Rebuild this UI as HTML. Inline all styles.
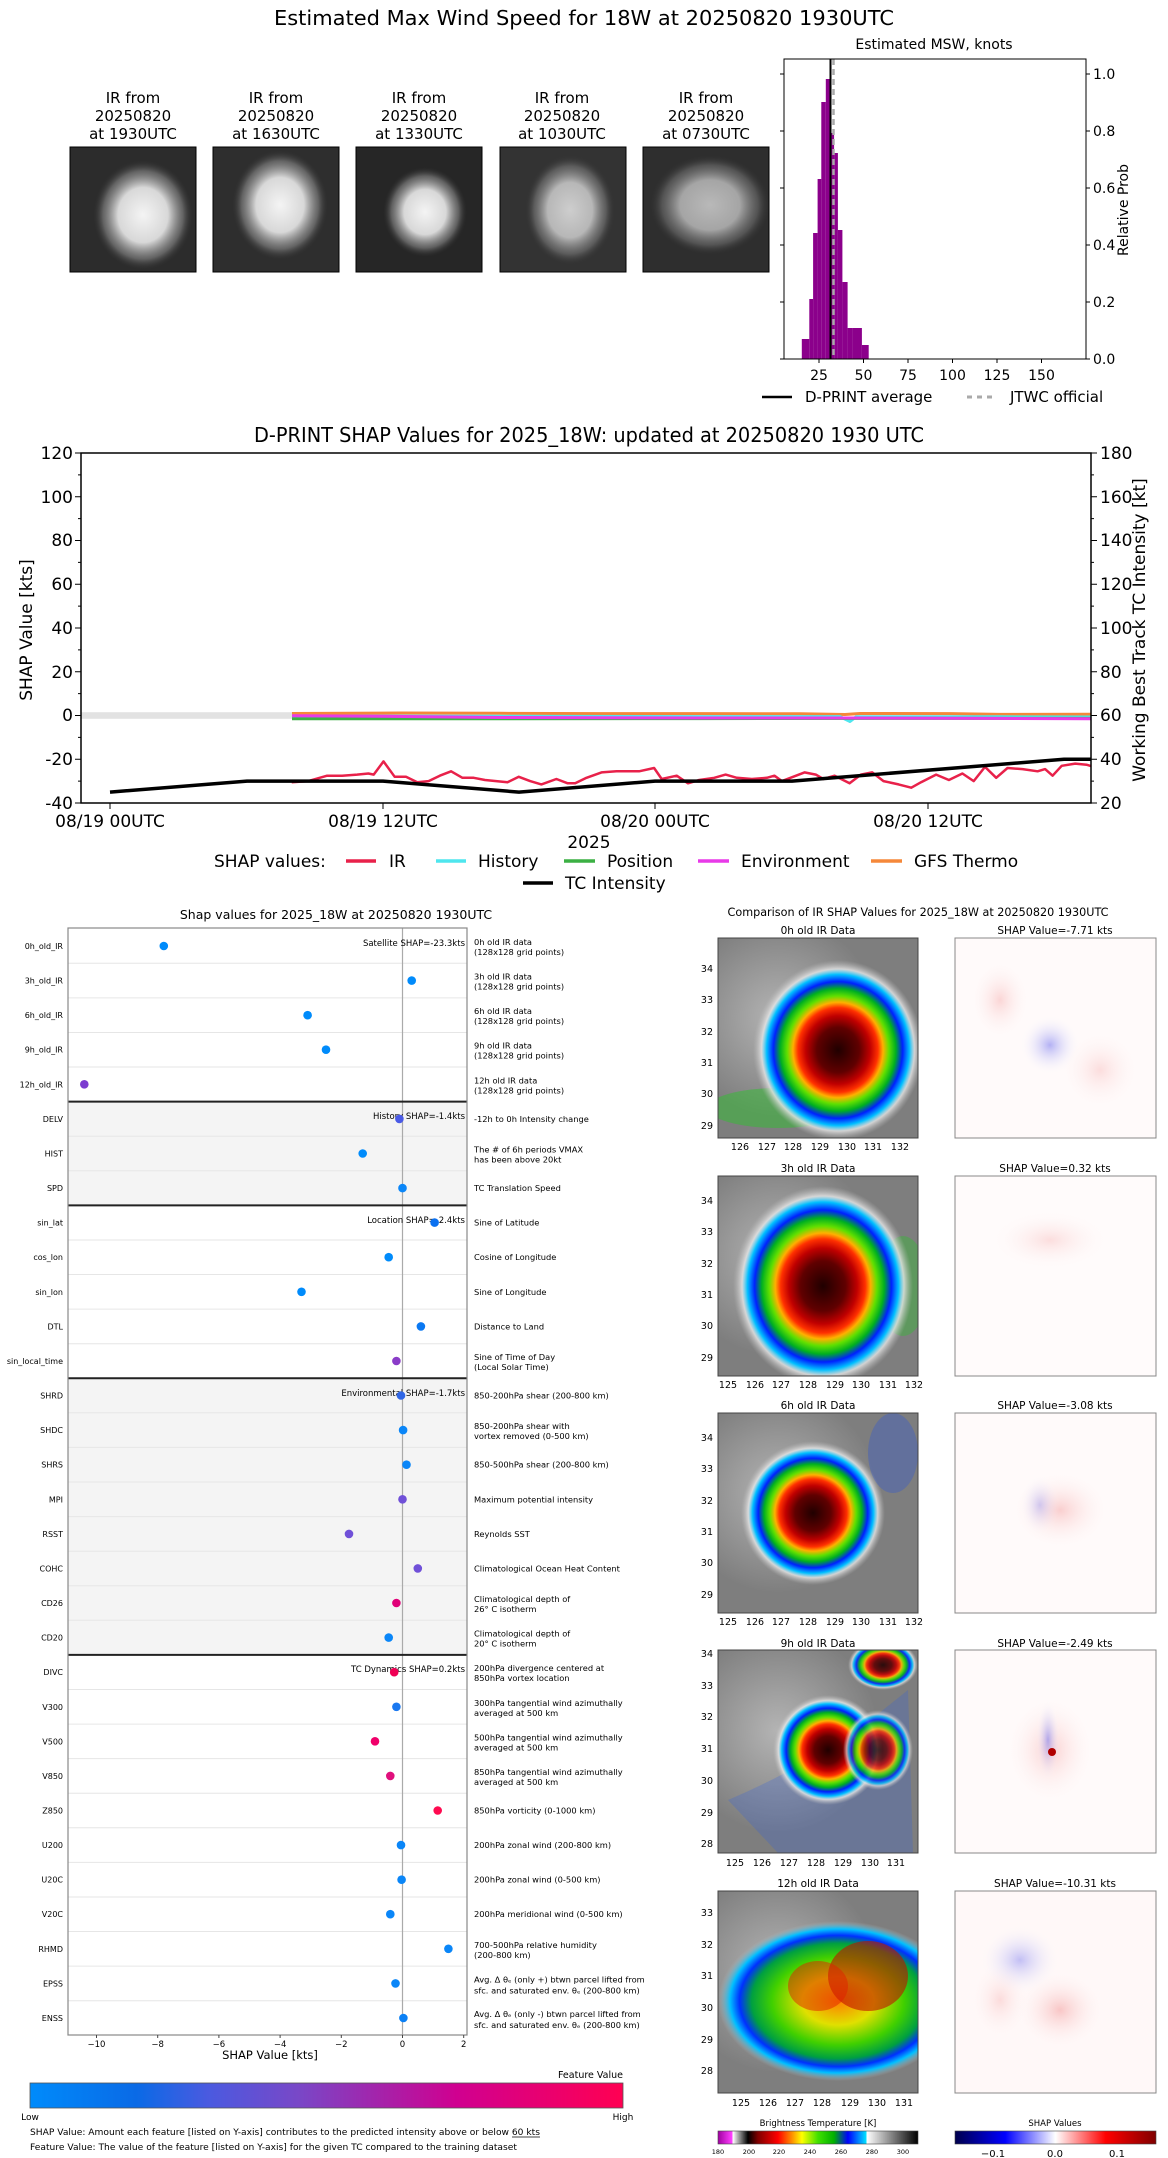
<!DOCTYPE html>
<html><head><meta charset="utf-8"><style>
html,body{margin:0;padding:0;background:#fff}
svg{display:block}
text{font-family:"DejaVu Sans","Liberation Sans",sans-serif;fill:#000}
</style></head><body>
<svg width="1168" height="2158" viewBox="0 0 1168 2158" xmlns="http://www.w3.org/2000/svg">
<defs>
<radialGradient id="wb"><stop offset="0" stop-color="#f4f4f4"/><stop offset="0.5" stop-color="#d8d8d8"/><stop offset="0.8" stop-color="#888" stop-opacity="0.6"/><stop offset="1" stop-color="#333" stop-opacity="0"/></radialGradient>
<radialGradient id="ir"><stop offset="0" stop-color="#200000"/><stop offset="0.25" stop-color="#600000"/><stop offset="0.38" stop-color="#c00000"/><stop offset="0.47" stop-color="#ff3000"/><stop offset="0.53" stop-color="#ffb000"/><stop offset="0.6" stop-color="#60e000"/><stop offset="0.68" stop-color="#00b020"/><stop offset="0.76" stop-color="#0020ff"/><stop offset="0.84" stop-color="#00c0ff"/><stop offset="0.9" stop-color="#e8e8e8" stop-opacity="0.8"/><stop offset="1" stop-color="#bbb" stop-opacity="0"/></radialGradient>
<radialGradient id="irg"><stop offset="0" stop-color="#ff8000"/><stop offset="0.3" stop-color="#e0e000"/><stop offset="0.55" stop-color="#40d000"/><stop offset="0.72" stop-color="#00a040"/><stop offset="0.82" stop-color="#0030ff"/><stop offset="0.9" stop-color="#00c0ff"/><stop offset="1" stop-color="#bbb" stop-opacity="0"/></radialGradient>
<radialGradient id="gbg" cx="0.3" cy="0.4"><stop offset="0" stop-color="#b4b4b4"/><stop offset="1" stop-color="#7e7e7e"/></radialGradient>
<radialGradient id="rb"><stop offset="0" stop-color="#f08080" stop-opacity="0.6"/><stop offset="1" stop-color="#fff" stop-opacity="0"/></radialGradient>
<radialGradient id="bb"><stop offset="0" stop-color="#8080f0" stop-opacity="0.6"/><stop offset="1" stop-color="#fff" stop-opacity="0"/></radialGradient>
<linearGradient id="fv" x1="0" x2="1"><stop offset="0" stop-color="#008bfb"/><stop offset="0.18" stop-color="#0a6ae6"/><stop offset="0.3" stop-color="#4a5ae0"/><stop offset="0.45" stop-color="#7848c8"/><stop offset="0.6" stop-color="#a820a8"/><stop offset="0.72" stop-color="#d00090"/><stop offset="1" stop-color="#ff0052"/></linearGradient>
<linearGradient id="bt" x1="0" x2="1"><stop offset="0" stop-color="#a000a0"/><stop offset="0.07" stop-color="#ff40ff"/><stop offset="0.075" stop-color="#fff"/><stop offset="0.1" stop-color="#aaa"/><stop offset="0.15" stop-color="#000"/><stop offset="0.2" stop-color="#800000"/><stop offset="0.3" stop-color="#ff0000"/><stop offset="0.37" stop-color="#ff9000"/><stop offset="0.42" stop-color="#ffff00"/><stop offset="0.5" stop-color="#40e000"/><stop offset="0.58" stop-color="#00b000"/><stop offset="0.65" stop-color="#0000ff"/><stop offset="0.74" stop-color="#00e0ff"/><stop offset="0.745" stop-color="#fff"/><stop offset="1" stop-color="#000"/></linearGradient>
<linearGradient id="sv" x1="0" x2="1"><stop offset="0" stop-color="#00004c"/><stop offset="0.25" stop-color="#0000ff"/><stop offset="0.5" stop-color="#fff"/><stop offset="0.75" stop-color="#ff0000"/><stop offset="1" stop-color="#800000"/></linearGradient>
<clipPath id="c2"><rect x="81" y="453" width="1010" height="350"/></clipPath>
</defs>

<!-- ===== Section 1 ===== -->
<text x="584" y="25" font-size="20" text-anchor="middle" textLength="620" lengthAdjust="spacingAndGlyphs">Estimated Max Wind Speed for 18W at 20250820 1930UTC</text>
<g font-size="15" text-anchor="middle">
<text x="133" y="103">IR from</text><text x="133" y="121">20250820</text><text x="133" y="139">at 1930UTC</text>
<text x="276" y="103">IR from</text><text x="276" y="121">20250820</text><text x="276" y="139">at 1630UTC</text>
<text x="419" y="103">IR from</text><text x="419" y="121">20250820</text><text x="419" y="139">at 1330UTC</text>
<text x="562" y="103">IR from</text><text x="562" y="121">20250820</text><text x="562" y="139">at 1030UTC</text>
<text x="706" y="103">IR from</text><text x="706" y="121">20250820</text><text x="706" y="139">at 0730UTC</text>
</g>
<g stroke="#000" stroke-width="1">
<rect x="70" y="147" width="126" height="125" fill="#2c2c2c"/>
<rect x="213" y="147" width="126" height="125" fill="#2e2e2e"/>
<rect x="356" y="147" width="126" height="125" fill="#262626"/>
<rect x="500" y="147" width="126" height="125" fill="#333"/>
<rect x="643" y="147" width="126" height="125" fill="#2e2e2e"/>
</g>
<ellipse cx="143" cy="215" rx="50" ry="55" fill="url(#wb)"/>
<ellipse cx="280" cy="205" rx="48" ry="55" fill="url(#wb)"/>
<ellipse cx="425" cy="212" rx="42" ry="45" fill="url(#wb)"/>
<ellipse cx="570" cy="210" rx="45" ry="55" fill="url(#wb)" opacity="0.8"/>
<ellipse cx="710" cy="205" rx="60" ry="50" fill="url(#wb)" opacity="0.7"/>

<g transform="translate(-8,0)">
<text x="942" y="49" font-size="14" text-anchor="middle">Estimated MSW, knots</text>
<g fill="#8b008b">
<rect x="809.8" y="339" width="7.5" height="20"/>
<rect x="817.3" y="299" width="3.8" height="60"/>
<rect x="821.1" y="233" width="4.5" height="126"/>
<rect x="825.6" y="179" width="3.7" height="180"/>
<rect x="829.3" y="102" width="4.5" height="257"/>
<rect x="833.8" y="79" width="4.5" height="280"/>
<rect x="838.3" y="133" width="3.8" height="226"/>
<rect x="842.1" y="153" width="3.8" height="206"/>
<rect x="845.9" y="230" width="4.5" height="129"/>
<rect x="850.4" y="282" width="5.2" height="77"/>
<rect x="855.6" y="328" width="5.3" height="31"/>
<rect x="860.9" y="328" width="9" height="31"/>
<rect x="869.9" y="345" width="6.8" height="14"/>
</g>
<line x1="838.5" y1="59" x2="838.5" y2="359" stroke="#000" stroke-width="2"/>
<line x1="841.5" y1="59" x2="841.5" y2="359" stroke="#aaa" stroke-width="2.5" stroke-dasharray="6,4"/>
<rect x="792" y="59" width="302" height="300" fill="none" stroke="#000" stroke-width="1"/>
<g stroke="#000">
<line x1="827" y1="359" x2="827" y2="363"/><line x1="871.5" y1="359" x2="871.5" y2="363"/><line x1="916" y1="359" x2="916" y2="363"/><line x1="960.5" y1="359" x2="960.5" y2="363"/><line x1="1005" y1="359" x2="1005" y2="363"/><line x1="1049.5" y1="359" x2="1049.5" y2="363"/>
<line x1="1094" y1="359" x2="1098" y2="359"/><line x1="1094" y1="302" x2="1098" y2="302"/><line x1="1094" y1="245" x2="1098" y2="245"/><line x1="1094" y1="188" x2="1098" y2="188"/><line x1="1094" y1="131" x2="1098" y2="131"/><line x1="1094" y1="74" x2="1098" y2="74"/>
<line x1="788" y1="359" x2="792" y2="359"/><line x1="788" y1="302" x2="792" y2="302"/><line x1="788" y1="245" x2="792" y2="245"/><line x1="788" y1="188" x2="792" y2="188"/><line x1="788" y1="131" x2="792" y2="131"/><line x1="788" y1="74" x2="792" y2="74"/>
</g>
<g font-size="14" text-anchor="middle">
<text x="827" y="380">25</text><text x="871.5" y="380">50</text><text x="916" y="380">75</text><text x="960.5" y="380">100</text><text x="1005" y="380">125</text><text x="1049.5" y="380">150</text>
</g>
<g font-size="14">
<text x="1101" y="364">0.0</text><text x="1101" y="307">0.2</text><text x="1101" y="250">0.4</text><text x="1101" y="193">0.6</text><text x="1101" y="136">0.8</text><text x="1101" y="79">1.0</text>
</g>
<text x="1136" y="210" font-size="14" text-anchor="middle" transform="rotate(-90 1136 210)">Relative Prob</text>
<line x1="770" y1="397" x2="800" y2="397" stroke="#000" stroke-width="2.5"/>
<text x="813" y="402" font-size="15">D-PRINT average</text>
<line x1="975" y1="397" x2="1003" y2="397" stroke="#aaa" stroke-width="3" stroke-dasharray="5,5"/>
<text x="1018" y="402" font-size="15">JTWC official</text>
</g>

<!-- ===== Section 2 ===== -->
<text x="589" y="442" font-size="20" text-anchor="middle" textLength="670" lengthAdjust="spacingAndGlyphs">D-PRINT SHAP Values for 2025_18W: updated at 20250820 1930 UTC</text>
<rect x="81" y="712.2" width="212" height="6.6" fill="#e2e2e2"/>
<g clip-path="url(#c2)" fill="none" stroke-linejoin="round">
<polyline stroke="#f5883a" stroke-width="3" points="292,713.5 400,713 500,713.3 600,713.6 700,713.6 800,713.8 845,714.5 860,713.5 950,713.6 1000,714.4 1091,714.2"/>
<polyline stroke="#4ee6ee" stroke-width="3" points="292,716 500,716.3 700,716.6 840,716.6 850,721.5 856,716.8 1000,716.8 1091,717"/>
<polyline stroke="#3cb044" stroke-width="3" points="292,718.8 500,718.8 700,718.6 900,718.4 1091,718.4"/>
<polyline stroke="#e83ae8" stroke-width="3" points="292,715.8 380,716.3 500,717.5 700,718 850,718 1000,718.4 1091,718.8"/>
<polyline stroke="#e8214a" stroke-width="2.5" points="291.7,782.2 308.3,781.1 327.1,775.7 342.1,775.7 357.1,774.6 368.4,773.5 373.7,774.6 383.5,761.4 394.7,776.8 406,776.8 417.3,782.2 428.6,781.1 439.8,775.7 451.1,771.3 462.4,777.8 473.7,777.8 485,780 496.2,781.1 507.5,782.2 518.8,776.8 530.1,781.1 541.4,784.4 556.4,779 567.7,783.3 575.2,783.3 586.5,777.8 601.5,772.4 616.5,771.3 639.1,771.3 654.1,768 661.7,779 676.7,775.7 688,783.3 699.2,780 714.3,777.8 725.6,774.6 736.8,777.8 751.9,779 766.9,777.8 774.4,775.7 782,781.1 804.5,772.4 815.8,774.6 823.3,779 834.6,775.7 849.6,783.3 860.9,774.6 872.2,772.4 883.5,781.1 898.5,784.4 911.3,787.7 921.1,782.2 936.1,774.6 948.9,780 962.4,773.5 973.7,781.1 985,766.9 996.2,777.8 1007.5,768 1022.6,769.1 1037.6,771.3 1045.1,769.1 1052.6,775.7 1061.7,765.8 1075.2,763.6 1086.5,764.7 1091,766"/>
<polyline stroke="#000" stroke-width="3.5" points="110,792.1 247,781.1 383,781.1 519,792.1 655,781.1 792,781.1 1064,759.25 1091,759.25"/>
</g>
<rect x="81" y="453" width="1010" height="350" fill="none" stroke="#000" stroke-width="1.5"/>
<g stroke="#000" stroke-width="1">
<path d="M81 453h-6M81 496.75h-6M81 540.5h-6M81 584.25h-6M81 628h-6M81 671.75h-6M81 715.5h-6M81 759.25h-6M81 803h-6M81 474.9h-3M81 518.6h-3M81 562.4h-3M81 606.1h-3M81 649.9h-3M81 693.6h-3M81 737.4h-3M81 781.1h-3"/>
<path d="M1091 453h6M1091 496.75h6M1091 540.5h6M1091 584.25h6M1091 628h6M1091 671.75h6M1091 715.5h6M1091 759.25h6M1091 803h6M1091 474.9h3M1091 518.6h3M1091 562.4h3M1091 606.1h3M1091 649.9h3M1091 693.6h3M1091 737.4h3M1091 781.1h3"/>
<path d="M110 803v6M383 803v6M655 803v6M928 803v6"/>
</g>
<g font-size="17" text-anchor="end">
<text x="73" y="459">120</text><text x="73" y="503">100</text><text x="73" y="546">80</text><text x="73" y="590">60</text><text x="73" y="634">40</text><text x="73" y="678">20</text><text x="73" y="721">0</text><text x="73" y="765">-20</text><text x="73" y="809">-40</text>
</g>
<g font-size="17">
<text x="1100" y="459">180</text><text x="1100" y="503">160</text><text x="1100" y="546">140</text><text x="1100" y="590">120</text><text x="1100" y="634">100</text><text x="1100" y="678">80</text><text x="1100" y="721">60</text><text x="1100" y="765">40</text><text x="1100" y="809">20</text>
</g>
<g font-size="17" text-anchor="middle">
<text x="110" y="827">08/19 00UTC</text><text x="383" y="827">08/19 12UTC</text><text x="655" y="827">08/20 00UTC</text><text x="928" y="827">08/20 12UTC</text>
<text x="589" y="848">2025</text>
</g>
<text x="32" y="630" font-size="17" text-anchor="middle" transform="rotate(-90 32 630)">SHAP Value [kts]</text>
<text x="1145" y="630" font-size="17" text-anchor="middle" transform="rotate(-90 1145 630)">Working Best Track TC Intensity [kt]</text>
<g font-size="17">
<text x="214" y="867">SHAP values:</text>
<line x1="346" y1="861" x2="376" y2="861" stroke="#e8214a" stroke-width="3.5"/><text x="389" y="867">IR</text>
<line x1="436" y1="861" x2="466" y2="861" stroke="#4ee6ee" stroke-width="3.5"/><text x="478" y="867">History</text>
<line x1="564" y1="861" x2="595" y2="861" stroke="#3cb044" stroke-width="3.5"/><text x="607" y="867">Position</text>
<line x1="698" y1="861" x2="729" y2="861" stroke="#e83ae8" stroke-width="3.5"/><text x="741" y="867">Environment</text>
<line x1="871" y1="861" x2="902" y2="861" stroke="#f5883a" stroke-width="3.5"/><text x="914" y="867">GFS Thermo</text>
<line x1="523" y1="883" x2="553" y2="883" stroke="#000" stroke-width="3.5"/><text x="565" y="889">TC Intensity</text>
</g>

<!-- ===== Section 3 left ===== -->
<text x="336" y="919" font-size="12.5" text-anchor="middle">Shap values for 2025_18W at 20250820 1930UTC</text>
<rect x="68" y="1101.6" width="399" height="103.8" fill="#f4f4f4"/>
<rect x="68" y="1378.2" width="399" height="276.7" fill="#f4f4f4"/>
<g stroke="#e6e6e6" stroke-width="1">
<path d="M68 963.3h399M68 997.9h399M68 1032.5h399M68 1067h399M68 1136.2h399M68 1170.8h399M68 1240h399M68 1274.5h399M68 1309.1h399M68 1343.7h399M68 1412.8h399M68 1447.4h399M68 1482h399M68 1516.6h399M68 1551.2h399M68 1585.7h399M68 1620.3h399M68 1689.5h399M68 1724.1h399M68 1758.6h399M68 1793.2h399M68 1827.8h399M68 1862.4h399M68 1897h399M68 1931.5h399M68 1966.1h399M68 2000.7h399"/>
</g>
<line x1="402.5" y1="928" x2="402.5" y2="2035" stroke="#aaa" stroke-width="1.2"/>
<g stroke="#222" stroke-width="2">
<path d="M68 1101.6h399M68 1205.4h399M68 1378.2h399M68 1654.9h399"/>
</g>
<rect x="68" y="928" width="399" height="1107" fill="none" stroke="#888" stroke-width="1.2"/>
<g font-size="8.5" text-anchor="end">
<text x="465" y="946">Satellite SHAP=-23.3kts</text>
<text x="465" y="1119">History SHAP=-1.4kts</text>
<text x="465" y="1223">Location SHAP=-2.4kts</text>
<text x="465" y="1396">Environmental SHAP=-1.7kts</text>
<text x="465" y="1672">TC Dynamics SHAP=0.2kts</text>
</g>
<g>
<circle cx="163.8" cy="946" r="4.3" fill="#008bfb"/>
<circle cx="411.7" cy="980.6" r="4.3" fill="#008bfb"/>
<circle cx="307.6" cy="1015.2" r="4.3" fill="#008bfb"/>
<circle cx="326" cy="1049.7" r="4.3" fill="#008bfb"/>
<circle cx="84.3" cy="1084.3" r="4.3" fill="#7c3cd0"/>
<circle cx="399.4" cy="1118.9" r="4.3" fill="#4a5ae6"/>
<circle cx="362.7" cy="1153.5" r="4.3" fill="#008bfb"/>
<circle cx="402.5" cy="1188.1" r="4.3" fill="#0a86f8"/>
<circle cx="434.6" cy="1222.6" r="4.3" fill="#0a70f0"/>
<circle cx="388.7" cy="1257.2" r="4.3" fill="#008bfb"/>
<circle cx="301.5" cy="1291.8" r="4.3" fill="#008bfb"/>
<circle cx="420.9" cy="1326.4" r="4.3" fill="#0a78f2"/>
<circle cx="396.4" cy="1361" r="4.3" fill="#8a3cc8"/>
<circle cx="401" cy="1395.5" r="4.3" fill="#2f66e6"/>
<circle cx="403.1" cy="1430.1" r="4.3" fill="#0a86f8"/>
<circle cx="406.5" cy="1464.7" r="4.3" fill="#0a86f8"/>
<circle cx="402.5" cy="1499.3" r="4.3" fill="#7050d8"/>
<circle cx="349" cy="1533.9" r="4.3" fill="#7050d8"/>
<circle cx="417.8" cy="1568.4" r="4.3" fill="#7050d8"/>
<circle cx="396.4" cy="1603" r="4.3" fill="#e00078"/>
<circle cx="388.7" cy="1637.6" r="4.3" fill="#0a86f8"/>
<circle cx="394.2" cy="1672.2" r="4.3" fill="#f00055"/>
<circle cx="396.4" cy="1706.8" r="4.3" fill="#1a78f0"/>
<circle cx="375" cy="1741.3" r="4.3" fill="#f0006a"/>
<circle cx="390.3" cy="1775.9" r="4.3" fill="#e0107c"/>
<circle cx="437.7" cy="1810.5" r="4.3" fill="#ff0a50"/>
<circle cx="401" cy="1845.1" r="4.3" fill="#0a86f8"/>
<circle cx="401.6" cy="1879.7" r="4.3" fill="#0a86f8"/>
<circle cx="390.3" cy="1914.2" r="4.3" fill="#0a86f8"/>
<circle cx="448.4" cy="1948.8" r="4.3" fill="#0a86f8"/>
<circle cx="395.5" cy="1983.4" r="4.3" fill="#0a86f8"/>
<circle cx="403.4" cy="2018" r="4.3" fill="#0a80f5"/>
</g>
<g font-size="8" text-anchor="end" fill="#222">
<text x="63" y="949">0h_old_IR</text><text x="63" y="983.6">3h_old_IR</text><text x="63" y="1018.2">6h_old_IR</text><text x="63" y="1052.7">9h_old_IR</text><text x="63" y="1087.3">12h_old_IR</text>
<text x="63" y="1121.9">DELV</text><text x="63" y="1156.5">HIST</text><text x="63" y="1191.1">SPD</text>
<text x="63" y="1225.6">sin_lat</text><text x="63" y="1260.2">cos_lon</text><text x="63" y="1294.8">sin_lon</text><text x="63" y="1329.4">DTL</text><text x="63" y="1364">sin_local_time</text>
<text x="63" y="1398.5">SHRD</text><text x="63" y="1433.1">SHDC</text><text x="63" y="1467.7">SHRS</text><text x="63" y="1502.3">MPI</text><text x="63" y="1536.9">RSST</text><text x="63" y="1571.4">COHC</text><text x="63" y="1606">CD26</text><text x="63" y="1640.6">CD20</text>
<text x="63" y="1675.2">DIVC</text><text x="63" y="1709.8">V300</text><text x="63" y="1744.3">V500</text><text x="63" y="1778.9">V850</text><text x="63" y="1813.5">Z850</text><text x="63" y="1848.1">U200</text><text x="63" y="1882.7">U20C</text><text x="63" y="1917.2">V20C</text><text x="63" y="1951.8">RHMD</text><text x="63" y="1986.4">EPSS</text><text x="63" y="2021">ENSS</text>
</g>
<g font-size="8.3" fill="#222">
<text x="474" y="945">0h old IR data</text><text x="474" y="955">(128x128 grid points)</text>
<text x="474" y="979.6">3h old IR data</text><text x="474" y="989.6">(128x128 grid points)</text>
<text x="474" y="1014.2">6h old IR data</text><text x="474" y="1024.2">(128x128 grid points)</text>
<text x="474" y="1048.7">9h old IR data</text><text x="474" y="1058.7">(128x128 grid points)</text>
<text x="474" y="1083.3">12h old IR data</text><text x="474" y="1093.3">(128x128 grid points)</text>
<text x="474" y="1122">-12h to 0h Intensity change</text>
<text x="474" y="1152.5">The # of 6h periods VMAX</text><text x="474" y="1162.5">has been above 20kt</text>
<text x="474" y="1191">TC Translation Speed</text>
<text x="474" y="1225.6">Sine of Latitude</text>
<text x="474" y="1260.2">Cosine of Longitude</text>
<text x="474" y="1294.8">Sine of Longitude</text>
<text x="474" y="1329.4">Distance to Land</text>
<text x="474" y="1360">Sine of Time of Day</text><text x="474" y="1370">(Local Solar Time)</text>
<text x="474" y="1398.5">850-200hPa shear (200-800 km)</text>
<text x="474" y="1429">850-200hPa shear with</text><text x="474" y="1439">vortex removed (0-500 km)</text>
<text x="474" y="1467.7">850-500hPa shear (200-800 km)</text>
<text x="474" y="1502.3">Maximum potential intensity</text>
<text x="474" y="1536.9">Reynolds SST</text>
<text x="474" y="1571.4">Climatological Ocean Heat Content</text>
<text x="474" y="1602">Climatological depth of</text><text x="474" y="1612">26° C isotherm</text>
<text x="474" y="1636.6">Climatological depth of</text><text x="474" y="1646.6">20° C isotherm</text>
<text x="474" y="1671">200hPa divergence centered at</text><text x="474" y="1681">850hPa vortex location</text>
<text x="474" y="1705.8">300hPa tangential wind azimuthally</text><text x="474" y="1715.8">averaged at 500 km</text>
<text x="474" y="1740.3">500hPa tangential wind azimuthally</text><text x="474" y="1750.3">averaged at 500 km</text>
<text x="474" y="1774.9">850hPa tangential wind azimuthally</text><text x="474" y="1784.9">averaged at 500 km</text>
<text x="474" y="1813.5">850hPa vorticity (0-1000 km)</text>
<text x="474" y="1848.1">200hPa zonal wind (200-800 km)</text>
<text x="474" y="1882.7">200hPa zonal wind (0-500 km)</text>
<text x="474" y="1917.2">200hPa meridional wind (0-500 km)</text>
<text x="474" y="1947.8">700-500hPa relative humidity</text><text x="474" y="1957.8">(200-800 km)</text>
<text x="474" y="1982.4">Avg. Δ θₑ (only +) btwn parcel lifted from</text><text x="474" y="1993.4">sfc. and saturated env. θₑ (200-800 km)</text>
<text x="474" y="2017">Avg. Δ θₑ (only -) btwn parcel lifted from</text><text x="474" y="2028">sfc. and saturated env. θₑ (200-800 km)</text>
</g>
<g stroke="#444"><path d="M96.5 2035v3M157.7 2035v3M218.9 2035v3M280.1 2035v3M341.3 2035v3M402.5 2035v3M463.7 2035v3"/></g>
<g font-size="8.5" text-anchor="middle" fill="#222">
<text x="96.5" y="2047">−10</text><text x="157.7" y="2047">−8</text><text x="218.9" y="2047">−6</text><text x="280.1" y="2047">−4</text><text x="341.3" y="2047">−2</text><text x="402.5" y="2047">0</text><text x="463.7" y="2047">2</text>
</g>
<text x="270" y="2059" font-size="11.5" text-anchor="middle">SHAP Value [kts]</text>
<text x="623" y="2078" font-size="9.5" text-anchor="end">Feature Value</text>
<rect x="30" y="2083" width="593" height="25" fill="url(#fv)" stroke="#555" stroke-width="0.8"/>
<text x="30" y="2120" font-size="9" text-anchor="middle">Low</text>
<text x="623" y="2120" font-size="9" text-anchor="middle">High</text>
<text x="30" y="2135" font-size="9" textLength="510" lengthAdjust="spacingAndGlyphs">SHAP Value: Amount each feature [listed on Y-axis] contributes to the predicted intensity above or below 60 kts</text>
<line x1="512" y1="2137" x2="540" y2="2137" stroke="#000" stroke-width="0.7"/>
<text x="30" y="2150" font-size="9" textLength="487" lengthAdjust="spacingAndGlyphs">Feature Value: The value of the feature [listed on Y-axis] for the given TC compared to the training dataset</text>

<!-- ===== Section 3 right ===== -->
<text x="918" y="916" font-size="11.2" text-anchor="middle">Comparison of IR SHAP Values for 2025_18W at 20250820 1930UTC</text>
<g font-size="10.5" text-anchor="middle">
<text x="818" y="934">0h old IR Data</text><text x="1055" y="934">SHAP Value=-7.71 kts</text>
<text x="818" y="1172">3h old IR Data</text><text x="1055" y="1172">SHAP Value=0.32 kts</text>
<text x="818" y="1409">6h old IR Data</text><text x="1055" y="1409">SHAP Value=-3.08 kts</text>
<text x="818" y="1647">9h old IR Data</text><text x="1055" y="1647">SHAP Value=-2.49 kts</text>
<text x="818" y="1887">12h old IR Data</text><text x="1055" y="1887">SHAP Value=-10.31 kts</text>
</g>
<!-- IR images -->
<svg x="718" y="938" width="200" height="200"><rect width="200" height="200" fill="url(#gbg)"/><ellipse cx="60" cy="170" rx="70" ry="20" fill="#30c030" opacity="0.5"/><ellipse cx="120" cy="112" rx="85" ry="90" fill="url(#ir)"/></svg>
<svg x="718" y="1176" width="200" height="200"><rect width="200" height="200" fill="url(#gbg)"/><ellipse cx="185" cy="110" rx="25" ry="50" fill="#30c030" opacity="0.4"/><ellipse cx="105" cy="110" rx="90" ry="100" fill="url(#ir)"/></svg>
<svg x="718" y="1413" width="200" height="200"><rect width="200" height="200" fill="url(#gbg)"/><ellipse cx="95" cy="100" rx="72" ry="72" fill="url(#ir)"/><ellipse cx="175" cy="40" rx="25" ry="40" fill="#2050e0" opacity="0.3"/></svg>
<svg x="718" y="1650" width="200" height="203"><rect width="200" height="203" fill="url(#gbg)"/><path d="M10 150 Q80 120 140 80 L190 40 L195 203 L60 203 Z" fill="#3060e0" opacity="0.25"/><ellipse cx="110" cy="100" rx="55" ry="55" fill="url(#ir)"/><ellipse cx="160" cy="100" rx="35" ry="40" fill="url(#ir)" opacity="0.8"/><ellipse cx="165" cy="15" rx="35" ry="25" fill="url(#ir)" opacity="0.9"/></svg>
<svg x="718" y="1891" width="200" height="202"><rect width="200" height="202" fill="url(#gbg)"/><ellipse cx="120" cy="110" rx="120" ry="80" fill="url(#irg)"/><ellipse cx="150" cy="85" rx="40" ry="35" fill="#c01000" opacity="0.6"/><ellipse cx="100" cy="95" rx="30" ry="25" fill="#e02000" opacity="0.5"/></svg>
<g fill="none" stroke="#444" stroke-width="1"><rect x="718" y="938" width="200" height="200"/><rect x="718" y="1176" width="200" height="200"/><rect x="718" y="1413" width="200" height="200"/><rect x="718" y="1650" width="200" height="203"/><rect x="718" y="1891" width="200" height="202"/></g>
<!-- SHAP images -->
<g>
<rect x="955" y="938" width="201" height="200" fill="#fffafa" stroke="#888"/>
<ellipse cx="1050" cy="1045" rx="30" ry="30" fill="url(#bb)"/><ellipse cx="1000" cy="1000" rx="30" ry="40" fill="url(#rb)" opacity="0.5"/><ellipse cx="1100" cy="1070" rx="40" ry="40" fill="url(#rb)" opacity="0.4"/>
<rect x="955" y="1176" width="201" height="200" fill="#fffbfb" stroke="#888"/>
<ellipse cx="1050" cy="1240" rx="60" ry="30" fill="url(#rb)" opacity="0.4"/>
<rect x="955" y="1413" width="201" height="200" fill="#fffafa" stroke="#888"/>
<ellipse cx="1060" cy="1510" rx="50" ry="40" fill="url(#rb)" opacity="0.6"/><ellipse cx="1040" cy="1505" rx="20" ry="30" fill="url(#bb)" opacity="0.6"/>
<rect x="955" y="1650" width="201" height="203" fill="#fffafa" stroke="#888"/>
<ellipse cx="1050" cy="1750" rx="45" ry="55" fill="url(#rb)" opacity="0.6"/><ellipse cx="1048" cy="1740" rx="12" ry="40" fill="url(#bb)"/><circle cx="1052" cy="1752" r="4" fill="#b00000"/>
<rect x="955" y="1891" width="201" height="202" fill="#fff8f8" stroke="#888"/>
<ellipse cx="1020" cy="1960" rx="40" ry="35" fill="url(#bb)" opacity="0.8"/><ellipse cx="1060" cy="2010" rx="45" ry="40" fill="url(#rb)" opacity="0.7"/><ellipse cx="1000" cy="2000" rx="30" ry="40" fill="url(#rb)" opacity="0.4"/>
</g>
<!-- IR ticks -->
<g font-size="9.5" text-anchor="end" fill="#222">
<text x="713" y="972">34</text><text x="713" y="1003">33</text><text x="713" y="1035">32</text><text x="713" y="1066">31</text><text x="713" y="1097">30</text><text x="713" y="1129">29</text>
<text x="713" y="1204">34</text><text x="713" y="1235">33</text><text x="713" y="1267">32</text><text x="713" y="1298">31</text><text x="713" y="1329">30</text><text x="713" y="1361">29</text>
<text x="713" y="1441">34</text><text x="713" y="1472">33</text><text x="713" y="1504">32</text><text x="713" y="1535">31</text><text x="713" y="1566">30</text><text x="713" y="1598">29</text>
<text x="713" y="1657">34</text><text x="713" y="1689">33</text><text x="713" y="1720">32</text><text x="713" y="1752">31</text><text x="713" y="1784">30</text><text x="713" y="1816">29</text><text x="713" y="1847">28</text>
<text x="713" y="1916">33</text><text x="713" y="1948">32</text><text x="713" y="1979">31</text><text x="713" y="2011">30</text><text x="713" y="2043">29</text><text x="713" y="2074">28</text>
</g>
<g font-size="9.5" text-anchor="middle" fill="#222">
<text x="740" y="1150">126</text><text x="767" y="1150">127</text><text x="793" y="1150">128</text><text x="820" y="1150">129</text><text x="847" y="1150">130</text><text x="873" y="1150">131</text><text x="900" y="1150">132</text>
<text x="728" y="1388">125</text><text x="755" y="1388">126</text><text x="781" y="1388">127</text><text x="808" y="1388">128</text><text x="835" y="1388">129</text><text x="861" y="1388">130</text><text x="888" y="1388">131</text><text x="914" y="1388">132</text>
<text x="728" y="1625">125</text><text x="755" y="1625">126</text><text x="781" y="1625">127</text><text x="808" y="1625">128</text><text x="835" y="1625">129</text><text x="861" y="1625">130</text><text x="888" y="1625">131</text><text x="914" y="1625">132</text>
<text x="735" y="1866">125</text><text x="762" y="1866">126</text><text x="789" y="1866">127</text><text x="816" y="1866">128</text><text x="843" y="1866">129</text><text x="870" y="1866">130</text><text x="896" y="1866">131</text>
<text x="741" y="2106">125</text><text x="768" y="2106">126</text><text x="795" y="2106">127</text><text x="822" y="2106">128</text><text x="850" y="2106">129</text><text x="877" y="2106">130</text><text x="904" y="2106">131</text>
</g>
<text x="818" y="2126" font-size="8.5" text-anchor="middle">Brightness Temperature [K]</text>
<rect x="718" y="2131" width="200" height="13" fill="url(#bt)" stroke="#444" stroke-width="0.6"/>
<g font-size="6.5" text-anchor="middle"><text x="718" y="2154">180</text><text x="749" y="2154">200</text><text x="779" y="2154">220</text><text x="810" y="2154">240</text><text x="841" y="2154">260</text><text x="872" y="2154">280</text><text x="903" y="2154">300</text></g>
<text x="1055" y="2126" font-size="8.5" text-anchor="middle">SHAP Values</text>
<rect x="955" y="2131" width="201" height="13" fill="url(#sv)" stroke="#444" stroke-width="0.6"/>
<g font-size="10" text-anchor="middle"><text x="993" y="2157">−0.1</text><text x="1055" y="2157">0.0</text><text x="1117" y="2157">0.1</text></g>
</svg>
</body></html>
